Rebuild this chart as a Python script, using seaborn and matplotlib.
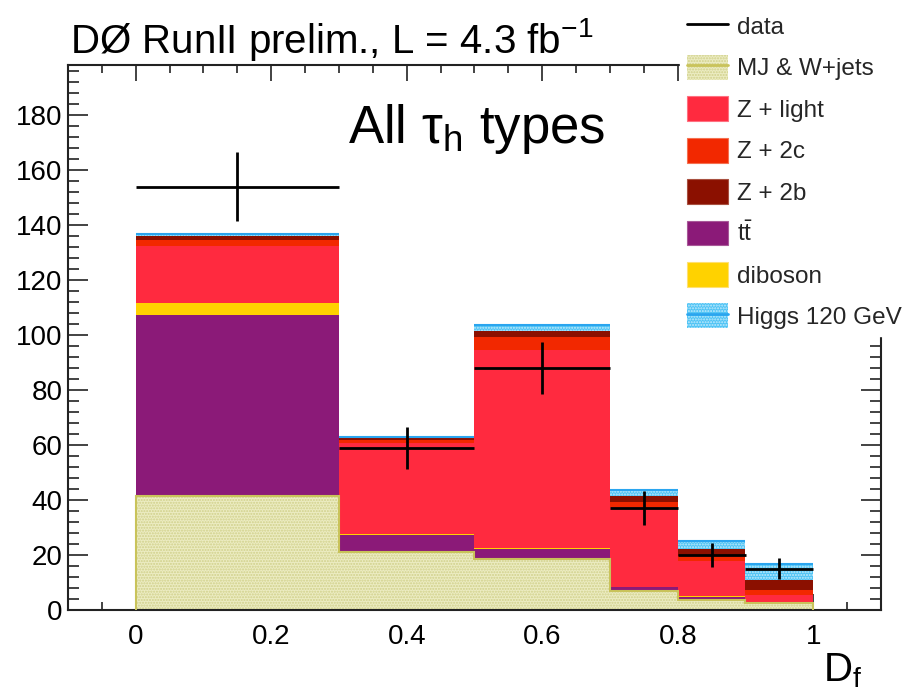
import numpy as np
import pandas as pd
import matplotlib
matplotlib.use("Agg")
import matplotlib.pyplot as plt
import seaborn as sns
from matplotlib.patches import Patch
from matplotlib.lines import Line2D
from matplotlib.ticker import MultipleLocator, FixedLocator

# ---------------- data ----------------
bin_edges = [0.0, 0.3, 0.5, 0.7, 0.8, 0.9, 1.0]
mj_wjets = [41.6, 21.2, 18.7, 7.0, 3.7, 2.6]
ttbar = [65.8, 6.0, 3.5, 1.2, 1.2, 0.3]
diboson = [4.2, 0.6, 0.4, 0.1, 0.1, 0.1]
z_light = [20.8, 32.8, 71.8, 29.3, 12.8, 2.5]
z_2c = [2.2, 1.1, 4.9, 1.8, 2.0, 1.8]
z_2b = [1.5, 0.7, 2.2, 2.1, 2.3, 3.6]
higgs = [0.8, 0.6, 2.2, 2.0, 3.0, 5.8]
data_counts = [154, 59, 88, 37, 20, 15]
data_errors = [12.4, 7.7, 9.4, 6.1, 4.5, 3.9]
x_tick_values = [0, 0.2, 0.4, 0.6, 0.8, 1.0]
x_tick_labels = ["0", "0.2", "0.4", "0.6", "0.8", "1"]
y_tick_values = [0, 20, 40, 60, 80, 100, 120, 140, 160, 180]

# ---------------- style ----------------
sns.set_theme(style="ticks")
plt.rcParams["font.family"] = ["Liberation Sans", "DejaVu Sans"]
plt.rcParams["mathtext.fontset"] = "custom"
plt.rcParams["mathtext.rm"] = "Liberation Sans"
plt.rcParams["mathtext.it"] = "Liberation Sans:italic"
plt.rcParams["mathtext.bf"] = "Liberation Sans:bold"
plt.rcParams["hatch.linewidth"] = 1.0

edges = np.array(bin_edges)
centers = (edges[:-1] + edges[1:]) / 2
half_w = (edges[1:] - edges[:-1]) / 2

layers = [
    ("MJ & W+jets", mj_wjets, "#ececc2", "#d0d08a", "......"),
    ("tt", ttbar, "#8b1a78", None, None),
    ("diboson", diboson, "#ffd200", None, None),
    ("Z + light", z_light, "#ff2a3f", None, None),
    ("Z + 2c", z_2c, "#f22800", None, None),
    ("Z + 2b", z_2b, "#8b1000", None, None),
    ("Higgs 120 GeV", higgs, "#4fc4f5", "#c4ebfc", "......"),
]
cum = np.cumsum(np.array([l[1] for l in layers]), axis=0)

fig = plt.figure(figsize=(9.06, 6.92), dpi=100)
ax = fig.add_axes([68 / 906, 1 - 610 / 692, (881 - 68) / 906, (610 - 64.7) / 692])

# draw from top of stack down (THStack style)
for k in range(len(layers) - 1, -1, -1):
    name, vals, face, hatchcol, hatch = layers[k]
    df = pd.DataFrame({"x": centers, "w": cum[k]})
    n0 = len(ax.patches)
    sns.histplot(data=df, x="x", weights="w", bins=list(bin_edges), color=face,
                 alpha=1, element="bars", fill=True, linewidth=0, ax=ax)
    for p in ax.patches[n0:]:
        p.set_facecolor(face)
        p.set_linewidth(0)
        if hatch:
            p.set_hatch(hatch)
            p.set_edgecolor(hatchcol)
        else:
            p.set_edgecolor(face)

# outlines for MJ and Higgs
ax.hlines(cum[-1], edges[:-1], edges[1:], color="#2aa5ef", linewidth=1.5, zorder=3)
ax.stairs(cum[0], edges, color="#c9c35a", linewidth=1.5, baseline=0, zorder=3)

# data
ax.errorbar(centers, data_counts, xerr=half_w, yerr=data_errors, fmt="none",
            ecolor="black", elinewidth=2, capsize=0, zorder=6)

ax.set_xlim(-0.1, 1.1)
ax.set_ylim(0, 198.3)
ax.set_xlabel("")
ax.set_ylabel("")
ax.xaxis.set_major_locator(FixedLocator(x_tick_values))
ax.set_xticklabels(x_tick_labels)
ax.xaxis.set_minor_locator(MultipleLocator(0.05))
ax.yaxis.set_major_locator(FixedLocator(y_tick_values))
ax.yaxis.set_minor_locator(MultipleLocator(4))
ax.tick_params(which="both", direction="in", top=True, right=True,
               color="#222222", width=1.2, labelsize=20, labelcolor="black")
ax.tick_params(axis="y", which="major", length=14.5, pad=4)
ax.tick_params(axis="y", which="minor", length=8)
ax.tick_params(axis="x", which="major", length=11.5, pad=10)
ax.tick_params(axis="x", which="minor", length=6)
for s in ax.spines.values():
    s.set_visible(True)
    s.set_color("#222222")
    s.set_linewidth(1.5)
ax.set_facecolor("white")

ax.text(0.313, 170, r"All $\mathregular{\tau_h}$ types", fontsize=38,
        ha="left", va="baseline", color="black")

fig.text(70 / 906, 1 - 53 / 692, r"DØ RunII prelim., L = 4.3 fb$^{\mathregular{-1}}$",
         fontsize=29, ha="left", va="baseline", color="black")
fig.text(823 / 906, 1 - 681 / 692, r"D$_{\mathregular{f}}$", fontsize=29,
         ha="left", va="baseline", color="black")

# legend
handles = [
    Line2D([], [], color="black", lw=2),
    (Patch(facecolor="#ececc2", edgecolor="#d0d08a", hatch="......", lw=0),
     Line2D([], [], color="#c9c35a", lw=2)),
    Patch(facecolor="#ff2a3f", edgecolor="#ff7080", lw=0.8),
    Patch(facecolor="#f22800", edgecolor="#f57050", lw=0.8),
    Patch(facecolor="#8b1000", edgecolor="#a85040", lw=0.8),
    Patch(facecolor="#8b1a78", edgecolor="#a85898", lw=0.8),
    Patch(facecolor="#ffd200", edgecolor="#ffe070", lw=0.8),
    (Patch(facecolor="#4fc4f5", edgecolor="#c4ebfc", hatch="......", lw=0),
     Line2D([], [], color="#2aa5ef", lw=2)),
]
labels = ["data", "MJ & W+jets", "Z + light", "Z + 2c", "Z + 2b",
          r"$\mathregular{t\bar{t}}$", "diboson", "Higgs 120 GeV"]
fig.legend(handles, labels, loc="upper left", bbox_to_anchor=(680 / 906, 1 - 6 / 692),
           frameon=True, facecolor="white", edgecolor="white", framealpha=1,
           fancybox=False, borderpad=0.3, handlelength=1.69, handleheight=1.2,
           labelspacing=0.65, handletextpad=0.37, borderaxespad=0,
           prop={"family": "Liberation Sans", "size": 17.5})

fig.savefig("out.png", dpi=100)
